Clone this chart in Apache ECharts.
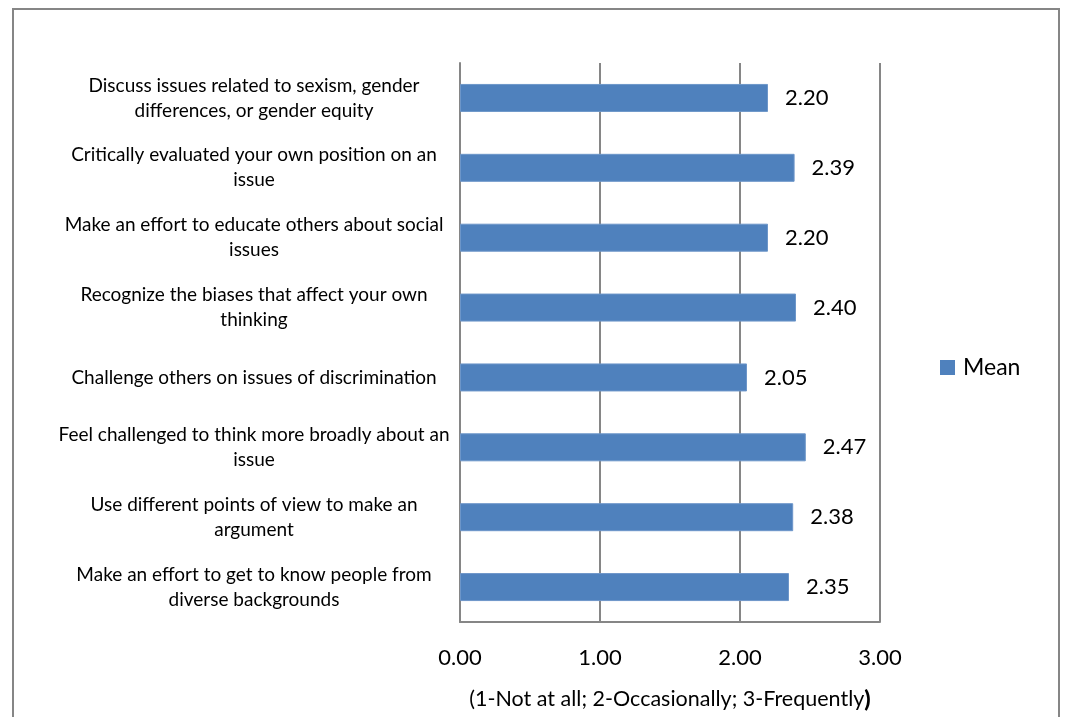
<!DOCTYPE html>
<html>
<head>
<meta charset="utf-8">
<script src="https://cdn.jsdelivr.net/npm/echarts@6/dist/echarts.min.js"></script>
<style>
  html, body { margin: 0; padding: 0; background: #ffffff; }
  #chart { width: 1065px; height: 717px; }
</style>
</head>
<body>
<div id="chart"></div>
<script>
// Survey items (top to bottom), two-line wrapping kept as written
const categories = [
  'Discuss issues related to sexism, gender\ndifferences, or gender equity',
  'Critically evaluated your own position on an\nissue',
  'Make an effort to educate others about social\nissues',
  'Recognize the biases that affect your own\nthinking',
  'Challenge others on issues of discrimination',
  'Feel challenged to think more broadly about an\nissue',
  'Use different points of view to make an\nargument',
  'Make an effort to get to know people from\ndiverse backgrounds'
];
const meanValues = [2.20, 2.39, 2.20, 2.40, 2.05, 2.47, 2.38, 2.35];
const seriesName = 'Mean';
const xTicks = { min: 0, max: 3, interval: 1 };
const axisTitle = '(1-Not at all; 2-Occasionally; 3-Frequently';

const FONT = 'Lato, "Open Sans", sans-serif';
const chart = echarts.init(document.getElementById('chart'));

chart.setOption({
  animation: false,
  backgroundColor: '#ffffff',
  textStyle: { fontFamily: FONT, color: '#000000' },
  graphic: [{
    type: 'rect',
    shape: { x: 13, y: 9, width: 1046, height: 730 },
    style: { fill: 'none', stroke: '#868686', lineWidth: 2 },
    silent: true
  }],
  legend: {
    data: [seriesName],
    left: 935,
    top: 351,
    itemWidth: 15,
    itemHeight: 15,
    itemStyle: { borderWidth: 0 },
    icon: 'rect',
    textStyle: { fontFamily: FONT, fontSize: 23, color: '#000000', padding: [0, 0, 0, 3] }
  },
  grid: { left: 460, right: 185, top: 63, bottom: 95, containLabel: false },
  xAxis: {
    type: 'value',
    min: xTicks.min,
    max: xTicks.max,
    interval: xTicks.interval,
    name: '{n|' + axisTitle + '}{b|)}',
    nameLocation: 'middle',
    nameGap: 66,
    nameTextStyle: {
      rich: {
        n: { fontFamily: FONT, fontSize: 21.5, color: '#000000' },
        b: { fontFamily: FONT, fontSize: 23, fontWeight: 900, color: '#000000' }
      }
    },
    axisLine: { show: true, lineStyle: { color: '#868686', width: 2 } },
    axisTick: { show: false },
    splitLine: { show: true, lineStyle: { color: '#868686', width: 2 } },
    axisLabel: {
      fontFamily: FONT, fontSize: 22, color: '#000000', margin: 25,
      formatter: v => v.toFixed(2)
    }
  },
  yAxis: {
    type: 'category',
    data: categories,
    inverse: true,
    axisLine: { show: true, lineStyle: { color: '#868686', width: 2 } },
    axisTick: { show: false },
    splitLine: { show: false },
    axisLabel: {
      fontFamily: FONT, fontSize: 19, color: '#000000',
      align: 'center', margin: 206, lineHeight: 25
    }
  },
  series: [{
    name: seriesName,
    type: 'bar',
    data: meanValues,
    barWidth: 28,
    itemStyle: { color: '#4F81BD', borderColor: '#6D96C9', borderWidth: 1 },
    label: {
      show: true,
      position: 'right',
      distance: 17,
      fontFamily: FONT,
      fontSize: 22,
      color: '#000000',
      formatter: p => p.value.toFixed(2)
    }
  }]
});
</script>
</body>
</html>
